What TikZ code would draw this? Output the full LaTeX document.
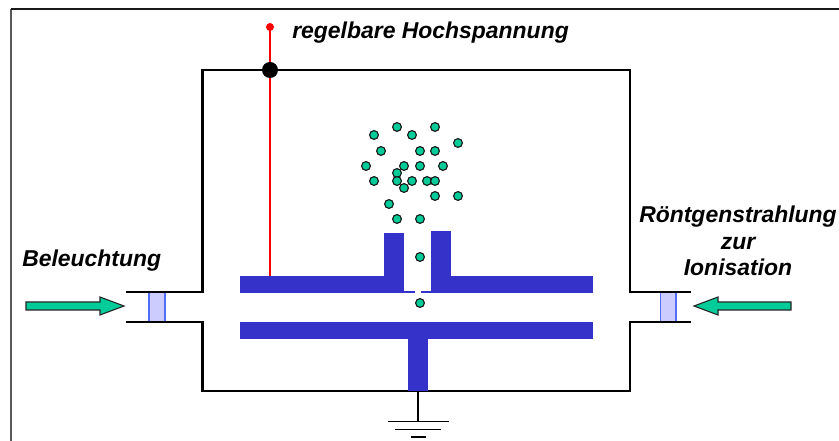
\documentclass[tikz,border=0pt]{standalone}
\usepackage{fontspec}
\setmainfont{Liberation Sans}
\tikzset{
  x=0.75pt,y=-0.75pt,
  wall/.style={draw=black,line width=2.2pt,line cap=butt,line join=miter},
  plate/.style={fill=platecol,draw=none},
  ion/.style={circle,fill=ioncol,draw=black!90,line width=0.85pt,inner sep=0pt,minimum size=6.6pt},
  beam/.style={fill=beamcol,draw=black!85,line width=0.8pt,line join=miter},
  window/.style={fill=wincol,draw=none},
  winedge/.style={draw=winedgecol,line width=0.8pt},
  label/.style={font=\fontsize{17.2}{19.8}\selectfont\bfseries\itshape,text=black,inner sep=0pt,align=center}
}
\definecolor{platecol}{RGB}{52,50,200}
\definecolor{ioncol}{RGB}{0,204,153}
\definecolor{beamcol}{RGB}{0,204,153}
\definecolor{wincol}{RGB}{204,204,255}
\definecolor{winedgecol}{RGB}{80,110,250}
\begin{document}
\begin{tikzpicture}
\useasboundingbox (0,0) rectangle (839,441);
\fill[white] (0,0) rectangle (839,441);
\draw[draw=black!65,line width=1pt] (11,441) -- (11,9);
\draw[draw=black!90,line width=0.8pt] (11,9) -- (839,9);
% windows
\fill[window] (149,292) rectangle (165,322);
\draw[winedge] (149,292) -- (149,322) (165,292) -- (165,322);
\fill[window] (660,292) rectangle (676,322);
\draw[winedge] (660.5,292) -- (660.5,322) (676,292) -- (676,322);
% chamber
\draw[wall] (126,292) -- (202.5,292) -- (202.5,70) -- (630,70) -- (630,292) -- (691,292);
\draw[wall] (126,322) -- (202.5,322) -- (202.5,391) -- (630,391) -- (630,322) -- (691,322);
% plates
\fill[plate] (240,276) rectangle (384,293);
\fill[plate] (384,233) rectangle (404,293);
\fill[plate] (431,231) rectangle (451,293);
\fill[plate] (451,276) rectangle (593,293);
\fill[plate] (404,291.5) rectangle (415,293);
\fill[plate] (421,291.5) rectangle (431,293);
\fill[plate] (240,322) rectangle (593,339);
\fill[plate] (408,339) rectangle (428,391);
% high voltage
\coordinate (hvtop) at (270,27);
\coordinate (hvjoin) at (270,70);
\coordinate (hvplate) at (270,276);
\draw[red,line width=1.1pt] (hvtop) -- (hvplate);
\fill[red] (hvtop) circle (4pt*0.75);
\fill[black] (hvjoin) circle (8pt*0.75);
% ground
\coordinate (gtop) at (418,391);
\coordinate (gbot) at (418,421);
\draw[black,line width=1.1pt] (gtop) -- (gbot);
\draw[black,line width=1.1pt] (388,421.5) -- (449,421.5);
\draw[black,line width=1.1pt] (395,429.5) -- (441,429.5);
\draw[black,line width=1.1pt] (411,437) -- (426,437);
% beams
\draw[beam] (26,302) -- (100,302) -- (100,297) -- (124,306) -- (100,315) -- (100,310) -- (26,310) -- cycle;
\draw[beam] (791,302) -- (718,302) -- (718,297) -- (694,306) -- (718,315) -- (718,310) -- (791,310) -- cycle;
% ions
\foreach \p [count=\i] in {(397,127),(435,127),(374,135),(412,135),(458,143),(381,151),(420,151),(435,151),(366,166),(404,166),(420,166),(443,166),(397,173),(374,181),(397,181),(412,181),(427,181),(435,181),(404,188),(435,196),(458,196),(389,204),(397,219),(420,219),(420,257),(420,303)}
  \node[ion] (ion\i) at \p {};
% labels
\node[label,anchor=west] (hv) at (292,33) {regelbare Hochspannung};
\node[label,anchor=west] (bel) at (22,261) {Beleuchtung};
\node[label] (roe) at (738,241) {Röntgenstrahlung\\zur\\Ionisation};
\end{tikzpicture}
\end{document}
